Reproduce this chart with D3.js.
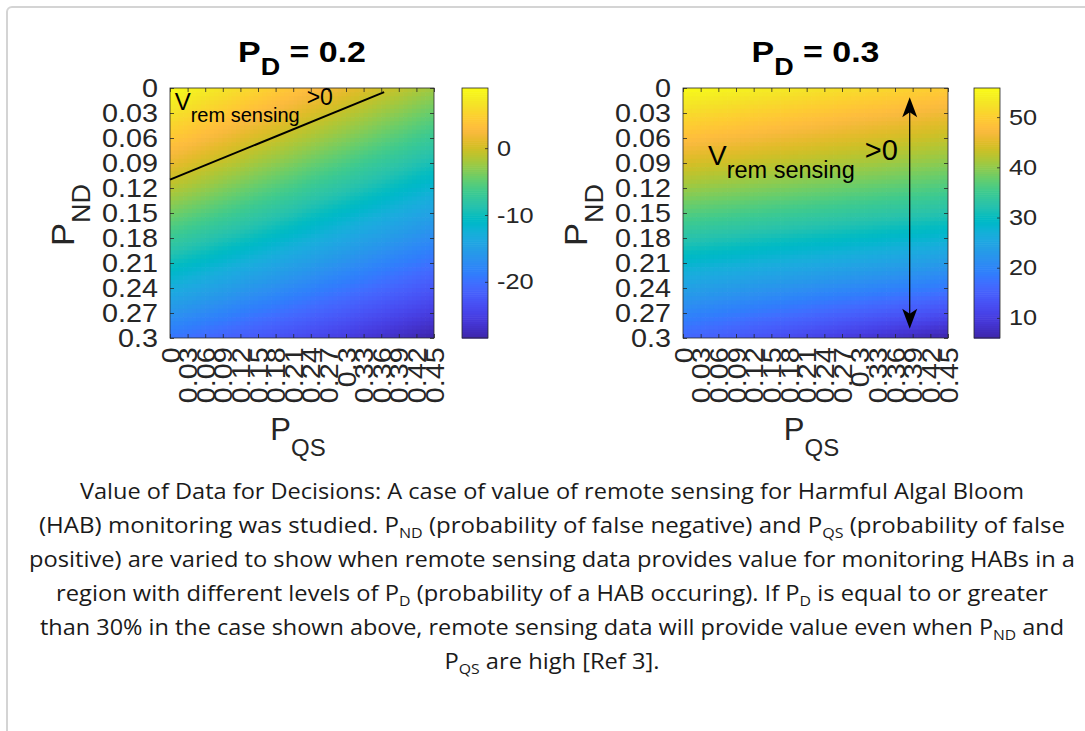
<!DOCTYPE html>
<html><head><meta charset="utf-8">
<script src="https://cdn.jsdelivr.net/npm/d3@7"></script>
<style>
body{margin:0;background:#fff;}
svg{display:block;}
</style></head><body>
<svg id="chart" width="1085" height="731"></svg>
<script>
// ---------------- DATA ----------------
const pqsValues = [0,0.03,0.06,0.09,0.12,0.15,0.18,0.21,0.24,0.27,0.3,0.33,0.36,0.39,0.42,0.45];
const pndValues = [0,0.03,0.06,0.09,0.12,0.15,0.18,0.21,0.24,0.27,0.3];
const xTickLabels = ["0","0.03","0.06","0.09","0.12","0.15","0.18","0.21","0.24","0.27","0.3","0.33","0.36","0.39","0.42","0.45"];
const yTickLabels = ["0","0.03","0.06","0.09","0.12","0.15","0.18","0.21","0.24","0.27","0.3"];
const panelTitles = ["0.2","0.3"];

// value of remote sensing, rows = P_ND, columns = P_QS   (P_D = 0.2)
const valuesPD02 = [
 [9.0,8.3,7.5,6.8,6.0,5.3,4.5,3.8,3.0,2.3,1.5,0.8,0.0,-0.7,-1.5,-2.2],
 [6.6,5.9,5.1,4.4,3.6,2.9,2.1,1.4,0.6,-0.1,-0.9,-1.6,-2.4,-3.1,-3.9,-4.6],
 [4.1,3.4,2.6,1.9,1.1,0.4,-0.3,-1.1,-1.8,-2.6,-3.3,-4.0,-4.8,-5.5,-6.3,-7.0],
 [1.5,0.8,0.0,-0.7,-1.4,-2.2,-2.9,-3.6,-4.4,-5.1,-5.8,-6.6,-7.3,-8.0,-8.8,-9.5],
 [-1.2,-1.9,-2.6,-3.4,-4.1,-4.8,-5.5,-6.2,-7.0,-7.7,-8.4,-9.1,-9.8,-10.6,-11.3,-12.0],
 [-4.0,-4.7,-5.4,-6.1,-6.8,-7.5,-8.2,-8.9,-9.7,-10.4,-11.1,-11.8,-12.5,-13.2,-13.9,-14.6],
 [-6.9,-7.6,-8.3,-9.0,-9.6,-10.3,-11.0,-11.7,-12.4,-13.1,-13.8,-14.5,-15.1,-15.8,-16.5,-17.2],
 [-9.9,-10.6,-11.2,-11.9,-12.6,-13.2,-13.9,-14.6,-15.2,-15.9,-16.6,-17.2,-17.9,-18.6,-19.2,-19.9],
 [-13.0,-13.6,-14.3,-14.9,-15.6,-16.2,-16.8,-17.5,-18.1,-18.8,-19.4,-20.0,-20.7,-21.3,-22.0,-22.6],
 [-16.2,-16.8,-17.4,-18.0,-18.7,-19.3,-19.9,-20.5,-21.1,-21.7,-22.3,-23.0,-23.6,-24.2,-24.8,-25.4],
 [-19.5,-20.1,-20.7,-21.3,-21.9,-22.5,-23.1,-23.7,-24.2,-24.8,-25.4,-26.0,-26.6,-27.2,-27.8,-28.4]
];
// (P_D = 0.3)
const valuesPD03 = [
 [55.8,55.4,55.0,54.6,54.2,53.8,53.4,53.0,52.6,52.2,51.8,51.4,51.0,50.6,50.2,49.8],
 [51.8,51.4,51.1,50.7,50.3,50.0,49.6,49.2,48.9,48.5,48.1,47.8,47.4,47.0,46.7,46.3],
 [48.1,47.8,47.4,47.1,46.8,46.4,46.1,45.8,45.4,45.1,44.8,44.4,44.1,43.8,43.4,43.1],
 [44.4,44.1,43.8,43.5,43.1,42.8,42.5,42.2,41.9,41.6,41.3,41.0,40.6,40.3,40.0,39.7],
 [40.6,40.3,40.0,39.7,39.4,39.1,38.8,38.5,38.2,37.9,37.6,37.3,37.0,36.7,36.4,36.1],
 [36.7,36.4,36.1,35.8,35.5,35.2,34.9,34.6,34.3,34.0,33.7,33.4,33.1,32.8,32.5,32.2],
 [32.6,32.3,32.0,31.7,31.3,31.0,30.7,30.4,30.1,29.8,29.5,29.2,28.8,28.5,28.2,27.9],
 [28.5,28.2,27.8,27.5,27.1,26.8,26.4,26.1,25.7,25.4,25.0,24.7,24.3,24.0,23.6,23.3],
 [24.3,23.9,23.5,23.1,22.7,22.3,21.9,21.5,21.1,20.7,20.3,19.9,19.5,19.1,18.7,18.3],
 [20.1,19.6,19.1,18.6,18.1,17.6,17.1,16.6,16.0,15.5,15.0,14.5,14.0,13.5,13.0,12.5],
 [16.0,15.3,14.7,14.0,13.3,12.7,12.0,11.3,10.7,10.0,9.3,8.7,8.0,7.3,6.7,6.0]
];
const colorbarTicksPD02 = [-20,-10,0];
const colorbarTicksPD03 = [10,20,30,40,50];
// V_rem sensing = 0 boundary (P_D = 0.2), in (P_QS, P_ND)
const boundaryPqs = [0, 0.365];
const boundaryPnd = [0.11, 0.005];
// double arrow (P_D = 0.3)
const arrowPqs = [0.385, 0.385];
const arrowPnd = [0.011, 0.289];

const captionLines = [
 [["Value of Data for Decisions: A case of value of remote sensing for Harmful Algal Bloom"]],
 [["(HAB) monitoring was studied. P"],["ND",1],[" (probability of false negative) and P"],["QS",1],[" (probability of false"]],
 [["positive) are varied to show when remote sensing data provides value for monitoring HABs in a"]],
 [["region with different levels of P"],["D",1],[" (probability of a HAB occuring). If P"],["D",1],[" is equal to or greater"]],
 [["than 30% in the case shown above, remote sensing data will provide value even when P"],["ND",1],[" and"]],
 [["P"],["QS",1],[" are high [Ref 3]."]]
];

// ---------------- STYLE ----------------
const PARULA = [[0.2422,0.1504,0.6603],[0.2504,0.1650,0.7076],[0.2578,0.1818,0.7511],[0.2647,0.1978,0.7952],[0.2706,0.2147,0.8364],[0.2751,0.2342,0.8710],[0.2783,0.2559,0.8991],[0.2803,0.2782,0.9221],[0.2813,0.3006,0.9414],[0.2810,0.3228,0.9579],[0.2795,0.3447,0.9717],[0.2760,0.3667,0.9829],[0.2699,0.3892,0.9906],[0.2602,0.4123,0.9952],[0.2440,0.4358,0.9988],[0.2206,0.4603,0.9973],[0.1963,0.4847,0.9892],[0.1834,0.5074,0.9798],[0.1786,0.5289,0.9682],[0.1764,0.5499,0.9520],[0.1687,0.5703,0.9359],[0.1540,0.5902,0.9218],[0.1460,0.6091,0.9079],[0.1380,0.6276,0.8973],[0.1248,0.6459,0.8883],[0.1113,0.6635,0.8763],[0.0952,0.6798,0.8598],[0.0689,0.6948,0.8394],[0.0297,0.7082,0.8163],[0.0036,0.7203,0.7917],[0.0067,0.7312,0.7660],[0.0433,0.7411,0.7394],[0.0964,0.7500,0.7120],[0.1408,0.7584,0.6842],[0.1717,0.7670,0.6554],[0.1938,0.7758,0.6251],[0.2161,0.7843,0.5923],[0.2470,0.7918,0.5567],[0.2906,0.7973,0.5188],[0.3406,0.8008,0.4789],[0.3909,0.8029,0.4354],[0.4456,0.8024,0.3909],[0.5044,0.7993,0.3480],[0.5616,0.7942,0.3045],[0.6174,0.7876,0.2612],[0.6720,0.7793,0.2227],[0.7242,0.7698,0.1910],[0.7738,0.7598,0.1646],[0.8203,0.7498,0.1535],[0.8634,0.7406,0.1596],[0.9035,0.7330,0.1774],[0.9393,0.7288,0.2100],[0.9728,0.7298,0.2394],[0.9956,0.7434,0.2371],[0.9970,0.7659,0.2199],[0.9952,0.7893,0.2028],[0.9892,0.8136,0.1885],[0.9786,0.8386,0.1766],[0.9676,0.8639,0.1643],[0.9610,0.8890,0.1537],[0.9597,0.9135,0.1423],[0.9628,0.9373,0.1265],[0.9691,0.9606,0.1064],[0.9769,0.9839,0.0805]];
const parulaInterp = d3.piecewise(d3.interpolateRgb, PARULA.map(c => d3.rgb(c[0]*255, c[1]*255, c[2]*255)));
const FONT = "'Liberation Sans', Arial, Helvetica, sans-serif";
const INK = "#262626";
const STRETCH = 1.15;   // the figure's lettering is slightly wide

const svg = d3.select("#chart");

// card border
svg.append("rect").attr("x",7).attr("y",7).attr("width",1120).attr("height",800)
  .attr("rx",5).attr("fill","none").attr("stroke","#d4d4d4").attr("stroke-width",2);

const panels = [
  {values: valuesPD02, title: panelTitles[0], x0:170, x1:434, cbX:462, cbTicks: colorbarTicksPD02},
  {values: valuesPD03, title: panelTitles[1], x0:683, x1:948, cbX:974, cbTicks: colorbarTicksPD03}
];
const Y0 = 88, Y1 = 338, CBW = 26;

panels.forEach((p, pi) => {
  const g = svg.append("g");
  const x = d3.scaleLinear().domain([pqsValues[0], pqsValues[pqsValues.length-1]]).range([p.x0, p.x1]);
  const y = d3.scaleLinear().domain([pndValues[0], pndValues[pndValues.length-1]]).range([Y0, Y1]);
  const ext = d3.extent(p.values.flat());
  const color = d3.scaleSequential(parulaInterp).domain(ext);

  // shaded surface (interp shading between grid nodes)
  const SY = 6, SX = 4, cells = [];
  for (let i = 0; i < pndValues.length-1; i++) for (let j = 0; j < pqsValues.length-1; j++) {
    const v00 = p.values[i][j], v01 = p.values[i][j+1], v10 = p.values[i+1][j], v11 = p.values[i+1][j+1];
    const dp = pndValues[i+1]-pndValues[i], dq = pqsValues[j+1]-pqsValues[j];
    for (let a = 0; a < SY; a++) for (let b = 0; b < SX; b++) {
      const u = (a+0.5)/SY, w = (b+0.5)/SX;
      cells.push({
        p0: pndValues[i]+dp*a/SY, p1: pndValues[i]+dp*(a+1)/SY,
        q0: pqsValues[j]+dq*b/SX, q1: pqsValues[j]+dq*(b+1)/SX,
        v: v00*(1-u)*(1-w)+v01*(1-u)*w+v10*u*(1-w)+v11*u*w
      });
    }
  }
  const clipId = "clip"+pi;
  svg.append("clipPath").attr("id", clipId).append("rect")
    .attr("x", p.x0).attr("y", Y0).attr("width", p.x1-p.x0).attr("height", Y1-Y0);
  g.append("g").attr("clip-path", `url(#${clipId})`).selectAll("rect").data(cells).join("rect")
    .attr("x", d => x(d.q0)).attr("y", d => y(d.p0))
    .attr("width", d => x(d.q1)-x(d.q0)+0.7).attr("height", d => y(d.p1)-y(d.p0)+0.7)
    .attr("fill", d => color(d.v));

  // axes
  const styleAxis = sel => {
    sel.select(".domain").remove();
    sel.selectAll("line").attr("stroke", INK).attr("stroke-width", 0.8);
    sel.selectAll("text").attr("font-family", FONT).attr("font-size", 25).attr("fill", INK);
  };
  const ly = g.append("g").attr("transform", `translate(${p.x0},0)`)
    .call(d3.axisLeft(y).tickValues(pndValues).tickFormat((d,i) => yTickLabels[i]).tickSizeInner(-4).tickSizeOuter(0).tickPadding(12))
    .call(styleAxis);
  ly.selectAll("text").attr("x", 0).attr("transform", `translate(-12,0) scale(${STRETCH},1)`);
  g.append("g").attr("transform", `translate(${p.x1},0)`)
    .call(d3.axisRight(y).tickValues(pndValues).tickFormat("").tickSizeInner(-4).tickSizeOuter(0))
    .call(styleAxis);
  g.append("g").attr("transform", `translate(0,${Y0})`)
    .call(d3.axisTop(x).tickValues(pqsValues).tickFormat("").tickSizeInner(-4).tickSizeOuter(0))
    .call(styleAxis);
  const bx = g.append("g").attr("transform", `translate(0,${Y1})`)
    .call(d3.axisBottom(x).tickValues(pqsValues).tickFormat((d,i) => xTickLabels[i]).tickSizeInner(-4).tickSizeOuter(0).tickPadding(8))
    .call(styleAxis);
  bx.selectAll("text").attr("transform", `rotate(-90) scale(${STRETCH},1)`).attr("text-anchor", "end")
    .attr("x", -8).attr("y", 0).attr("dy", "0.36em");
  g.append("rect").attr("x", p.x0).attr("y", Y0).attr("width", p.x1-p.x0).attr("height", Y1-Y0)
    .attr("fill", "none").attr("stroke", INK).attr("stroke-width", 0.8);

  // title
  const cx = (p.x0+p.x1)/2;
  const t = g.append("text").attr("transform", `translate(${cx},62) scale(1.17,1)`).attr("text-anchor", "middle")
    .attr("font-family", FONT).attr("font-weight", "bold").attr("font-size", 29).attr("fill", "#000");
  t.append("tspan").text("P");
  t.append("tspan").attr("font-size", 23).attr("dy", 13).text("D");
  t.append("tspan").attr("dy", -13).text(" = " + p.title);

  // x label
  const xl = g.append("text").attr("x", cx-4).attr("y", 440).attr("text-anchor", "middle")
    .attr("font-family", FONT).attr("font-size", 31).attr("fill", INK);
  xl.append("tspan").text("P");
  xl.append("tspan").attr("font-size", 24).attr("dy", 16).text("QS");

  // y label
  const yl = g.append("text").attr("transform", `translate(${p.x0-96},${(Y0+Y1)/2+2}) rotate(-90) scale(1.08,1)`)
    .attr("text-anchor", "middle").attr("font-family", FONT).attr("font-size", 32).attr("fill", INK);
  yl.append("tspan").text("P");
  yl.append("tspan").attr("font-size", 25).attr("dy", 16).text("ND");

  // colorbar
  const cy = d3.scaleLinear().domain(ext).range([Y1, Y0]);
  const steps = d3.range(0, 120).map(k => ext[0] + (ext[1]-ext[0])*k/120);
  const dv = (ext[1]-ext[0])/120;
  g.append("g").selectAll("rect").data(steps).join("rect")
    .attr("x", p.cbX).attr("width", CBW)
    .attr("y", d => cy(d+dv)).attr("height", d => cy(d)-cy(d+dv)+0.6)
    .attr("fill", d => color(d+dv/2));
  g.append("rect").attr("x", p.cbX).attr("y", Y0).attr("width", CBW).attr("height", Y1-Y0)
    .attr("fill", "none").attr("stroke", INK).attr("stroke-width", 0.8);
  g.append("g").attr("transform", `translate(${p.cbX+CBW},0)`)
    .call(d3.axisRight(cy).tickValues(p.cbTicks).tickFormat(d => String(d)).tickSizeInner(-3).tickSizeOuter(0).tickPadding(9))
    .call(styleAxis)
    .selectAll("text").attr("font-size", 22).attr("x", 0).attr("transform", `translate(9,0) scale(${STRETCH},1)`);
});

// annotations, left panel
{
  const p = panels[0];
  const x = d3.scaleLinear().domain([0,0.45]).range([p.x0, p.x1]);
  const y = d3.scaleLinear().domain([0,0.3]).range([Y0, Y1]);
  svg.append("path").attr("d", d3.line()(boundaryPqs.map((q,i) => [x(q), y(boundaryPnd[i])])))
    .attr("stroke", "#000").attr("stroke-width", 2).attr("fill", "none");
  const a = svg.append("text").attr("x", x(0.008)).attr("y", y(0.026)).attr("font-family", FONT).attr("fill", "#000");
  a.append("tspan").attr("font-size", 24).text("V");
  a.append("tspan").attr("font-size", 20).attr("dy", 12).text("rem sensing");
  a.append("tspan").attr("font-size", 23).attr("dx", 7).attr("dy", -17).text(">0");
}
// annotations, right panel
{
  const p = panels[1];
  const x = d3.scaleLinear().domain([0,0.45]).range([p.x0, p.x1]);
  const y = d3.scaleLinear().domain([0,0.3]).range([Y0, Y1]);
  const ax = x(arrowPqs[0]), ya = y(arrowPnd[0]), yb = y(arrowPnd[1]);
  svg.append("line").attr("x1", ax).attr("x2", x(arrowPqs[1])).attr("y1", ya+10).attr("y2", yb-10)
    .attr("stroke", "#000").attr("stroke-width", 1.2);
  const head = "M0,0 L-7.5,20 L0,15 L7.5,20 Z";
  svg.append("path").attr("d", head).attr("transform", `translate(${ax},${ya})`).attr("fill", "#000");
  svg.append("path").attr("d", head).attr("transform", `translate(${ax},${yb}) rotate(180)`).attr("fill", "#000");
  const a = svg.append("text").attr("x", x(0.0425)).attr("y", y(0.092)).attr("font-family", FONT).attr("fill", "#000");
  a.append("tspan").attr("font-size", 28).text("V");
  a.append("tspan").attr("font-size", 23.5).attr("dy", 13).text("rem sensing");
  a.append("tspan").attr("font-size", 29).attr("dx", 10).attr("dy", -18).text(">0");
}

// caption
const capWidths = [944, 1026, 1046, 992, 1024, 215];
const capY = [499, 533, 567, 601, 635, 669];
captionLines.forEach((line, li) => {
  const t = svg.append("text").attr("x", 552).attr("y", capY[li]).attr("text-anchor", "middle")
    .attr("font-family", "'Open Sans', 'Noto Sans', sans-serif").attr("font-size", 21).attr("fill", "#1a1a1a");
  let sub = false;
  line.forEach(seg => {
    const ts = t.append("tspan").text(seg[0]);
    if (seg[1]) { ts.attr("font-size", 14).attr("dy", 5); sub = true; }
    else if (sub) { ts.attr("dy", -5); sub = false; }
  });
  t.attr("textLength", capWidths[li]).attr("lengthAdjust", "spacingAndGlyphs");
});
</script>
</body></html>
